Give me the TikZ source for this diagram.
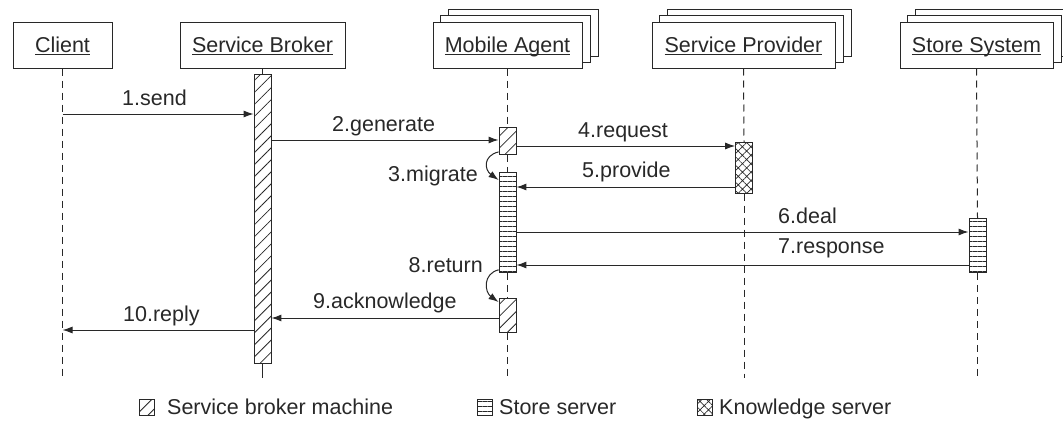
\documentclass[tikz,border=0pt]{standalone}
\usepackage{fontspec}
\setmainfont{Liberation Sans}
\usetikzlibrary{arrows.meta,patterns.meta,backgrounds}
\definecolor{ink}{RGB}{40,40,40}
% underlined object name, rule at a fixed depth below the baseline
\newcommand\objname[1]{\setbox0\hbox{#1}\rlap{\rule[-2.6pt]{\wd0}{0.9pt}}\box0}
\begin{document}
\begin{tikzpicture}[x=1pt,y=-1pt,
  font=\fontsize{21.5}{24}\selectfont,
  objbox/.style={draw=ink, line width=1pt, fill=white, inner sep=0pt,
    text height=16pt, text depth=2pt, minimum height=46pt, text=ink},
  shadowbox/.style={draw=ink, line width=1pt, fill=white},
  life/.style={draw=ink, line width=1pt, dash pattern=on 7pt off 5pt},
  msg/.style={draw=ink, line width=1pt, -{Latex[length=10pt,width=7pt]}},
  lbl/.style={inner sep=0pt, text=ink, anchor=base west},
  rlbl/.style={inner sep=0pt, text=ink, anchor=base east},
  bar/.style={draw=ink, line width=0.9pt, minimum width=17pt, inner sep=0pt, anchor=north},
  slant/.style={pattern={Lines[angle=45,distance=8.5pt,line width=0.8pt]}, pattern color=ink},
  stripe/.style={pattern={Lines[angle=0,distance=5pt,line width=0.8pt]}, pattern color=ink},
  cross/.style={pattern={Hatch[angle=45,distance=6pt,line width=0.7pt]}, pattern color=ink},
  keysq/.style={draw=ink, line width=0.9pt, minimum width=15pt, minimum height=16pt, inner sep=0pt},
]
\useasboundingbox (0,0) rectangle (1063,431);

% objects
\node[objbox, minimum width=99pt]  (client)   at (62.5,45)  {\objname{Client}};
\node[objbox, minimum width=165pt] (broker)   at (262.5,45) {\objname{Service Broker}};
\node[objbox, minimum width=149pt] (agent)    at (507.5,45) {\objname{Mobile Agent}};
\node[objbox, minimum width=183pt] (provider) at (743.5,45) {\objname{Service Provider}};
\node[objbox, minimum width=153pt] (store)    at (976.5,45) {\objname{Store System}};

\begin{scope}[on background layer]
  % stacked copies behind multi-instance objects
  \foreach \n in {agent,provider,store}{
    \draw[shadowbox] ([xshift=16pt,yshift=12pt]\n.south west) rectangle ([xshift=16pt,yshift=12pt]\n.north east);
    \draw[shadowbox] ([xshift=8pt,yshift=6pt]\n.south west) rectangle ([xshift=8pt,yshift=6pt]\n.north east);
  }
\end{scope}

% activation bars
\node[bar, slant,  minimum height=289pt] (sbbar) at (262.5,74)  {};
\node[bar, slant,  minimum height=27pt]  (ma1)   at (507.5,127) {};
\node[bar, stripe, minimum height=100pt] (mast)  at (507.5,172) {};
\node[bar, slant,  minimum height=34pt]  (ma2)   at (507.5,298) {};
\node[bar, cross,  minimum height=51pt]  (spbar) at (744,142)   {};
\node[bar, stripe, minimum height=54pt]  (stbar) at (977.5,218) {};

% lifeline ends
\coordinate (cend) at (62.5,378);
\coordinate (bend) at (262.5,378);
\coordinate (aend) at (507.5,378);
\coordinate (pend) at (744,378);
\coordinate (send) at (977.5,378);

% lifelines
\draw[life] (client.south) -- (cend);
\draw[draw=ink, line width=1pt] (broker.south) -- (sbbar.north);
\draw[draw=ink, line width=1pt] (sbbar.south) -- (bend);
\draw[life] (agent.south) -- (ma1.north);
\draw[life] (ma1.south) -- (mast.north);
\draw[life] (mast.south) -- (ma2.north);
\draw[life] (ma2.south) -- (aend);
\draw[life] (provider.south) -- (spbar.north);
\draw[life] (spbar.south) -- (pend);
\draw[life] (store.south) -- (stbar.north);
\draw[life] (stbar.south) -- (send);

% messages
\draw[msg] (client.south |- 0,114) -- (sbbar.west |- 0,114);
\node[lbl] (m1) at (122,105) {1.send};
\draw[msg] (sbbar.east |- 0,140) -- (ma1.west |- 0,140);
\node[lbl] (m2) at (332,131) {2.generate};
\draw[msg] ([yshift=3pt]ma1.south west) .. controls +(-16,4) and +(-14,-10) .. ([yshift=-8pt]mast.north west);
\node[rlbl] (m3) at (478,181) {3.migrate};
\draw[msg] (ma1.east |- 0,146) -- (spbar.west |- 0,146);
\node[lbl] (m4) at (578,137) {4.request};
\draw[msg] (spbar.west |- 0,187) -- (mast.east |- 0,187);
\node[lbl] (m5) at (582,177) {5.provide};
\draw[msg] (mast.east |- 0,232) -- (stbar.west |- 0,232);
\node[lbl] (m6) at (778,223) {6.deal};
\draw[msg] (stbar.west |- 0,265) -- (mast.east |- 0,265);
\node[lbl] (m7) at (778,253) {7.response};
\draw[msg] ([yshift=3pt]mast.south west) .. controls +(-16,4) and +(-14,-10) .. ([yshift=-4pt]ma2.north west);
\node[rlbl] (m8) at (483,272) {8.return};
\draw[msg] (ma2.west |- 0,318) -- (sbbar.east |- 0,318);
\node[lbl] (m9) at (313,308) {9.acknowledge};
\draw[msg] (sbbar.west |- 0,330) -- (cend |- 0,330);
\node[lbl] (m10) at (123,321) {10.reply};

% key
\node[keysq, slant]  (k1) at (146.5,407) {};
\node[lbl] (t1) at (167,414.5) {Service broker machine};
\node[keysq, stripe] (k2) at (485,407) {};
\node[lbl] (t2) at (499,414.5) {Store server};
\node[keysq, cross]  (k3) at (704.5,407) {};
\node[lbl] (t3) at (719,414.5) {Knowledge server};
\end{tikzpicture}
\end{document}
